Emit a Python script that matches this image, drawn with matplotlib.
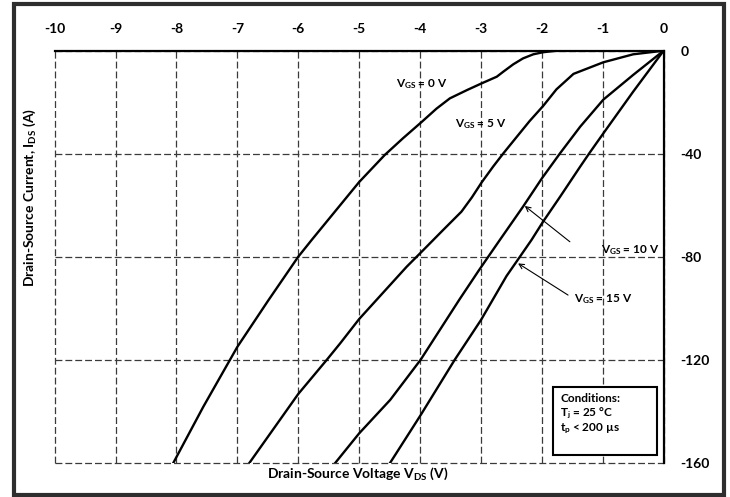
import matplotlib
matplotlib.use("Agg")
import matplotlib.pyplot as plt
from matplotlib.patches import Rectangle

FONT = ["Lato", "DejaVu Sans"]
plt.rcParams["font.family"] = FONT
plt.rcParams["axes.unicode_minus"] = False
plt.rcParams["mathtext.fontset"] = "custom"
plt.rcParams["mathtext.rm"] = "Lato:bold"
plt.rcParams["mathtext.it"] = "Lato:bold"
plt.rcParams["mathtext.bf"] = "Lato:bold"

INK = "#000000"
GRID = "#3a3a3a"
FRAME = "#2e2e2e"

# output characteristics (V_DS in V, I_DS in A)
vgs0_v = [0, -1.54, -1.76, -1.98, -2.14, -2.31, -2.47, -2.63, -2.74, -2.99, -3.23,
          -3.51, -3.73, -3.97, -4.28, -4.58, -4.82, -5.0, -5.78, -6.0, -6.49, -7.0,
          -7.56, -8.05]
vgs0_i = [0, 0, 0, -0.6, -1.4, -3.0, -5.3, -8.1, -10.1, -12.7, -15.3,
          -18.5, -22.5, -27.6, -34.0, -40.5, -46.5, -51, -73.5, -80, -96.9, -115,
          -138.3, -160]

vgs5_v = [0, -0.5, -0.99, -1.48, -1.76, -1.98, -2.20, -2.41, -2.63, -2.80, -2.99,
          -3.15, -3.32, -3.62, -4.0, -4.22, -5.0, -5.31, -5.53, -6.0, -6.80]
vgs5_i = [0, -1.4, -4.5, -9.0, -15.0, -21.5, -27.3, -33.4, -39.8, -45.0, -51.2,
          -57, -62.5, -69.6, -78.7, -83.9, -104.2, -113.6, -120, -133.3, -160]

vgs10_v = [0, -0.5, -0.99, -1.37, -1.70, -2.0, -2.31, -2.69, -2.88, -3.04, -3.35,
           -3.99, -4.49, -5.0, -5.39]
vgs10_i = [0, -9.4, -19.0, -29.5, -39.8, -49.6, -60.6, -73.5, -80, -85.5, -96.5,
           -120, -135.6, -148.6, -160]

vgs15_v = [0, -0.5, -0.99, -1.22, -1.37, -1.70, -1.98, -2.17, -2.36, -2.58, -3.0,
           -3.43, -3.99, -4.49]
vgs15_i = [0, -15.9, -32.1, -39.8, -45.0, -56.7, -66.4, -73.5, -80, -87.5, -104.6,
           -120, -141.5, -160]

x_ticks = [-10, -9, -8, -7, -6, -5, -4, -3, -2, -1, 0]
y_ticks = [0, -40, -80, -120, -160]

fig = plt.figure(figsize=(7.3, 4.97), dpi=100)
ax = fig.add_axes([0.0749, 0.0690, 0.8342, 0.8290])

# curves
for v, i in [(vgs0_v, vgs0_i), (vgs5_v, vgs5_i), (vgs10_v, vgs10_i), (vgs15_v, vgs15_i)]:
    ax.plot(v, i, color=INK, linewidth=1.7, solid_joinstyle="round", zorder=3)

ax.set_xlim(-10, 0)
ax.set_ylim(-160, 0)
ax.set_xticks(x_ticks)
ax.set_yticks(y_ticks)
ax.xaxis.tick_top()
ax.yaxis.tick_right()
ax.tick_params(length=0, labelsize=10, pad=11)
ax.tick_params(axis="y", pad=12)
for lab in ax.get_xticklabels() + ax.get_yticklabels():
    lab.set_fontweight("bold")

# dashed grid, solid top/right frame
ax.grid(True, color=GRID, linewidth=0.9, linestyle=(0, (5.5, 2.4)), zorder=1)
for gl in ax.get_xgridlines() + ax.get_ygridlines():
    gl.set_clip_on(False)
ax.spines["left"].set_visible(False)
ax.spines["bottom"].set_visible(False)
ax.spines["top"].set_linewidth(1.6)
ax.spines["right"].set_linewidth(1.6)
ax.spines["top"].set_zorder(4)
ax.spines["right"].set_zorder(4)

# curve labels
lab_kw = dict(fontsize=8.5, fontweight="bold", color=INK, va="center", ha="left", zorder=5)
ax.text(-4.39, -13.1, r"V$_{\mathrm{GS}}$ = 0 V", **lab_kw)
ax.text(-3.43, -28.5, r"V$_{\mathrm{GS}}$ = 5 V", **lab_kw)
ax.text(-1.03, -77.4, r"V$_{\mathrm{GS}}$ = 10 V", **lab_kw)
ax.text(-1.48, -96.6, r"V$_{\mathrm{GS}}$ = 15 V", **lab_kw)
arr = dict(arrowstyle="->,head_length=0.35,head_width=0.18", color=INK, lw=0.8,
           shrinkA=0, shrinkB=0)
ax.annotate("", xy=(-2.28, -60.3), xytext=(-1.54, -74.2), arrowprops=arr, zorder=5)
ax.annotate("", xy=(-2.39, -82.6), xytext=(-1.57, -94.9), arrowprops=arr, zorder=5)

# conditions box
ax.add_patch(Rectangle((-1.81, -157.0), 1.695, 26.5, facecolor="white",
                       edgecolor=INK, linewidth=1.5, zorder=5))
cond_kw = dict(fontsize=8.5, fontweight="bold", color=INK, va="center", ha="left", zorder=6)
ax.text(-1.70, -134.9, "Conditions:", **cond_kw)
ax.text(-1.70, -141.0, r"T$_{\mathrm{j}}$ = 25 °C", **cond_kw)
ax.text(-1.70, -147.0, r"t$_{\mathrm{p}}$ < 200 µs", **cond_kw)

# axis titles
fig.text(0.490, 0.046, r"Drain-Source Voltage V$_{\mathrm{DS}}$ (V)", fontsize=10,
         fontweight="bold", ha="center", va="center")
fig.text(0.041, 0.602, r"Drain-Source Current, I$_{\mathrm{DS}}$ (A)", fontsize=10,
         fontweight="bold", ha="center", va="center", rotation=90)

# outer frame
fig.patches.append(Rectangle((0.0185, 0.005), 0.973, 0.987, transform=fig.transFigure,
                             fill=False, edgecolor=FRAME, linewidth=3.0))

fig.savefig("out.png", dpi=100, facecolor="white")
